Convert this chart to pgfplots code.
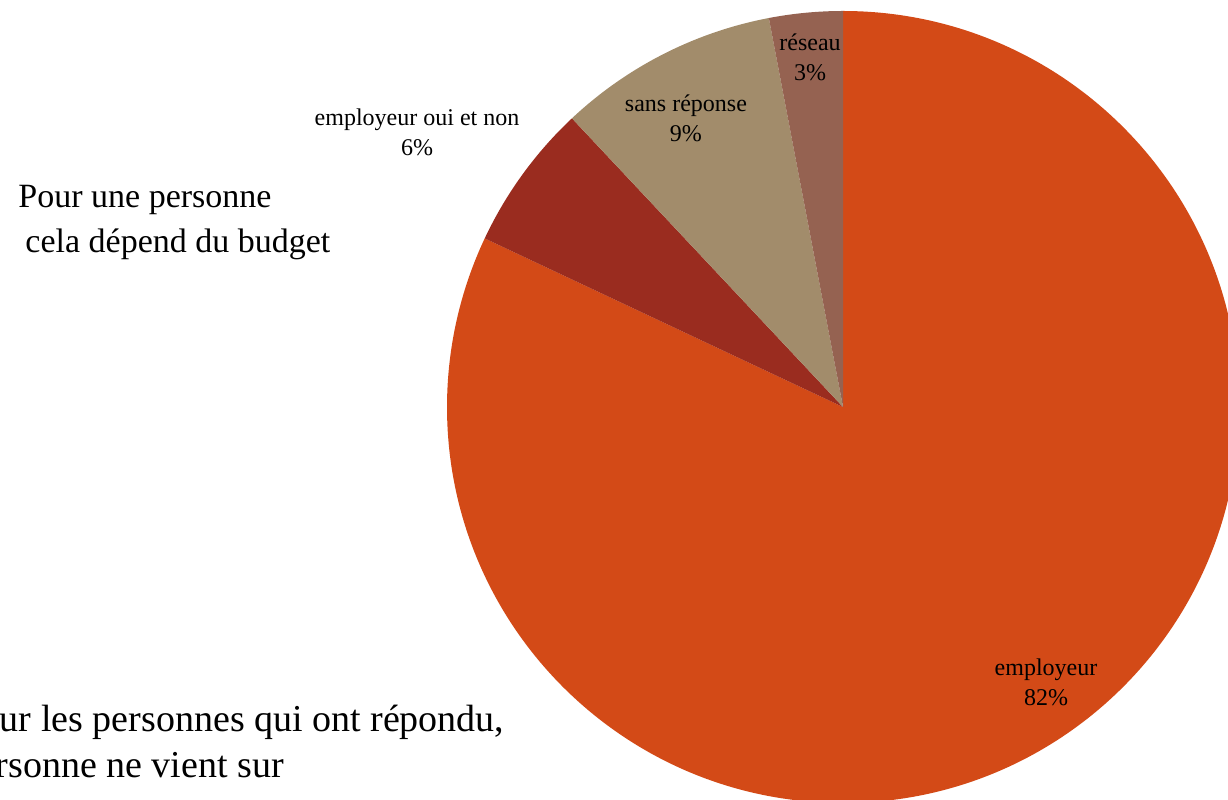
\documentclass[border=0pt]{standalone}
\usepackage{pgfplots}
\pgfplotsset{compat=1.18}
\usepackage{fontspec}
\setmainfont{Liberation Serif}

% slice colours
\definecolor{cEmp}{HTML}{D34A17}
\definecolor{cOui}{HTML}{9A2C1F}
\definecolor{cSans}{HTML}{A28C6B}
\definecolor{cRes}{HTML}{956251}

% shares (%): employeur 82, employeur oui et non 6, sans reponse 9, reseau 3
% slices run clockwise from 12 o'clock, 3.6 deg per percent

\begin{document}
\begin{tikzpicture}
\begin{axis}[
  hide axis,
  scale only axis,
  x=198pt, y=198pt,
  xmin=-2.1288, xmax=0.9722,
  ymin=-0.9924, ymax=1.0278,
  clip=true,
]
% employeur 82%
\fill[cEmp] (axis cs:0,0) -- ([shift={(90:198pt)}]axis cs:0,0)
  arc[start angle=90, end angle=-205.2, radius=198pt] -- cycle;
% employeur oui et non 6%
\fill[cOui] (axis cs:0,0) -- ([shift={(-205.2:198pt)}]axis cs:0,0)
  arc[start angle=-205.2, end angle=-226.8, radius=198pt] -- cycle;
% sans reponse 9%
\fill[cSans] (axis cs:0,0) -- ([shift={(-226.8:198pt)}]axis cs:0,0)
  arc[start angle=-226.8, end angle=-259.2, radius=198pt] -- cycle;
% reseau 3%
\fill[cRes] (axis cs:0,0) -- ([shift={(-259.2:198pt)}]axis cs:0,0)
  arc[start angle=-259.2, end angle=-270, radius=198pt] -- cycle;

% slice labels
\tikzset{lab/.style={align=center, font=\fontsize{12}{15}\selectfont, inner sep=0pt}}
\node[lab] at (rel axis cs:0.6596,0.9288) {réseau\\3\%};
\node[lab] at (rel axis cs:0.5586,0.8525) {sans réponse\\9\%};
\node[lab] at (rel axis cs:0.3396,0.8350) {employeur oui et non\\6\%};
\node[lab] at (rel axis cs:0.8518,0.1475) {employeur\\82\%};

% free text (the bottom block runs off the left edge, as in the original)
\tikzset{big/.style={font=\fontsize{17}{22.5}\selectfont, inner sep=0pt}}
\node[big, anchor=base west] at (rel axis cs:0.0147,0.7400) {Pour une personne};
\node[big, anchor=base west] at (rel axis cs:0.0204,0.6838) {cela dépend du budget};
\tikzset{big2/.style={font=\fontsize{19}{23}\selectfont, inner sep=0pt}}
\node[big2, anchor=base west] at (rel axis cs:-0.0330,0.0850) {Pour les personnes qui ont répondu,};
\node[big2, anchor=base west] at (rel axis cs:-0.0330,0.0275) {personne ne vient sur};
\end{axis}
\pgfresetboundingbox
\path (current axis.south west) rectangle (current axis.north east);
\end{tikzpicture}
\end{document}
